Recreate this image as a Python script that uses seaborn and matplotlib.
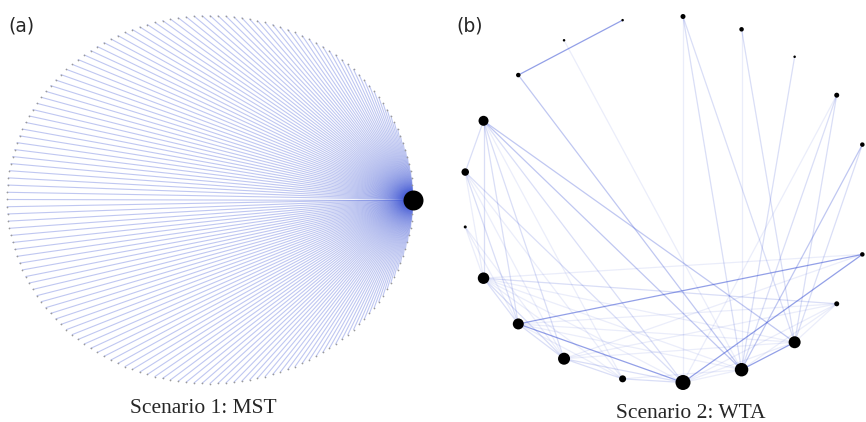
import numpy as np
import pandas as pd
import matplotlib
matplotlib.use("Agg")
import matplotlib.pyplot as plt
import seaborn as sns

# ---------------- data ----------------
# Scenario 1 (MST): star network, one hub joined to every other node on a ring
n_nodes_a = 160
hub_a = 0
spoke_weight_a = 3

# Scenario 2 (WTA): 20 nodes, layout coordinates
node_x_b = [-1.19, -1.09, -0.90, -0.65, -0.33, 0.00, 0.32, 0.61, 0.84, 0.98,
            0.98, 0.84, 0.61, 0.32, 0.00, -0.33, -0.65, -0.90, -1.09, -1.19]
node_y_b = [0.15, 0.43, 0.68, 0.87, 0.98, 1.00, 0.93, 0.78, 0.57, 0.30,
            -0.30, -0.57, -0.78, -0.93, -1.00, -0.98, -0.87, -0.68, -0.43, -0.15]
node_size_b = [7.5, 10, 4.5, 2.5, 2.5, 5, 4.5, 2.5, 5, 4.5,
               4.5, 5, 12, 13.5, 15, 7, 12, 11, 11.5, 3]
edge_src_b = [2, 10, 10, 17, 12,
              2, 9, 1, 1,
              1, 1, 1, 1, 1, 0, 0, 5, 5, 6, 7, 8, 8, 9, 18, 18, 17, 16, 15, 16, 11,
              3, 5, 6, 8, 0, 0, 0, 1, 19, 19, 19, 18, 18, 18, 17, 17, 16, 16,
              11, 11, 11, 10, 10, 15, 14, 14, 18, 13, 12]
edge_dst_b = [4, 14, 17, 14, 13,
              13, 13, 13, 12,
              0, 18, 17, 16, 14, 14, 17, 13, 12, 12, 13, 13, 12, 12, 17, 16, 16, 15, 14, 14, 18,
              13, 14, 13, 14, 18, 16, 15, 15, 18, 17, 16, 15, 13, 12, 15, 13, 12, 11,
              17, 12, 13, 16, 18, 13, 12, 11, 14, 14, 17]
edge_weight_b = [4, 4, 4, 4, 4,
                 3, 3, 3, 3,
                 2, 2, 2, 2, 2, 2, 2, 2, 2, 2, 2, 2, 2, 2, 2, 2, 2, 2, 2, 2, 2,
                 1, 1, 1, 1, 1, 1, 1, 1, 1, 1, 1, 1, 1, 1, 1, 1, 1, 1,
                 1, 1, 1, 1, 1, 1, 1, 1, 1, 1, 1]

titles = ["Scenario 1: MST", "Scenario 2: WTA"]
panel_labels = ["(a)", "(b)"]

# ---------------- style ----------------
EDGE_BLUE = "#3a52d4"
ALPHA = {1: 0.10, 2: 0.19, 3: 0.32, 4: 0.55}
W, H = 866, 422

sns.set_theme(style="white")
plt.rcParams["font.family"] = ["DejaVu Sans"]

fig = plt.figure(figsize=(W / 100, H / 100), dpi=100)


def place(cx, cy, ux, uy, xlim, ylim):
    left = cx + xlim[0] * ux
    width = (xlim[1] - xlim[0]) * ux
    top = cy - ylim[1] * uy
    height = (ylim[1] - ylim[0]) * uy
    ax = fig.add_axes([left / W, 1 - (top + height) / H, width / W, height / H])
    ax.set_xlim(*xlim)
    ax.set_ylim(*ylim)
    ax.set_axis_off()
    return ax


def draw_edges(ax, xs, ys, src, dst, weights, lw):
    rows = []
    for e, (s, d, w) in enumerate(zip(src, dst, weights)):
        rows.append((e, w, xs[s], ys[s]))
        rows.append((e, w, xs[d], ys[d]))
    df = pd.DataFrame(rows, columns=["edge", "w", "x", "y"])
    for w, sub in df.groupby("w"):
        sns.lineplot(data=sub, x="x", y="y", units="edge", estimator=None,
                     sort=False, color=EDGE_BLUE, alpha=ALPHA[w], lw=lw,
                     legend=False, ax=ax, zorder=1)


# ---------------- panel (a) ----------------
axA = place(210, 199.5, 203, 184, (-1.06, 1.06), (-1.06, 1.06))
ang = 2 * np.pi * np.arange(n_nodes_a) / n_nodes_a
xa, ya = np.cos(ang), np.sin(ang)
others = [k for k in range(n_nodes_a) if k != hub_a]
draw_edges(axA, xa, ya, [hub_a] * len(others), others,
           [spoke_weight_a] * len(others), lw=0.8)
sns.scatterplot(x=xa[others], y=ya[others], s=1.5, color="#9a9a9a", linewidth=0,
                ax=axA, zorder=2, clip_on=False)
sns.scatterplot(x=[xa[hub_a]], y=[ya[hub_a]], s=(20 * 0.72) ** 2, color="black",
                linewidth=0, ax=axA, zorder=3, clip_on=False)
axA.set_xlabel(""); axA.set_ylabel("")

# ---------------- panel (b) ----------------
axB = place(683, 199.5, 183, 183, (-1.3, 1.1), (-1.1, 1.1))
draw_edges(axB, node_x_b, node_y_b, edge_src_b, edge_dst_b, edge_weight_b, lw=0.9)
sizes_b = [(d * 0.72) ** 2 for d in node_size_b]
sns.scatterplot(x=node_x_b, y=node_y_b, s=sizes_b, color="black", linewidth=0,
                ax=axB, zorder=3, clip_on=False)
axB.set_xlabel(""); axB.set_ylabel("")

# ---------------- text ----------------
fig.text(8 / W, 1 - 31 / H, panel_labels[0], fontsize=13.5, ha="left", va="baseline")
fig.text(456 / W, 1 - 31 / H, panel_labels[1], fontsize=13.5, ha="left", va="baseline")
fig.text(203 / W, 1 - 413 / H, titles[0], fontsize=15.5, family="Liberation Serif",
         ha="center", va="baseline")
fig.text(691 / W, 1 - 418 / H, titles[1], fontsize=15.5, family="Liberation Serif",
         ha="center", va="baseline")

fig.savefig("out.png", dpi=100)
